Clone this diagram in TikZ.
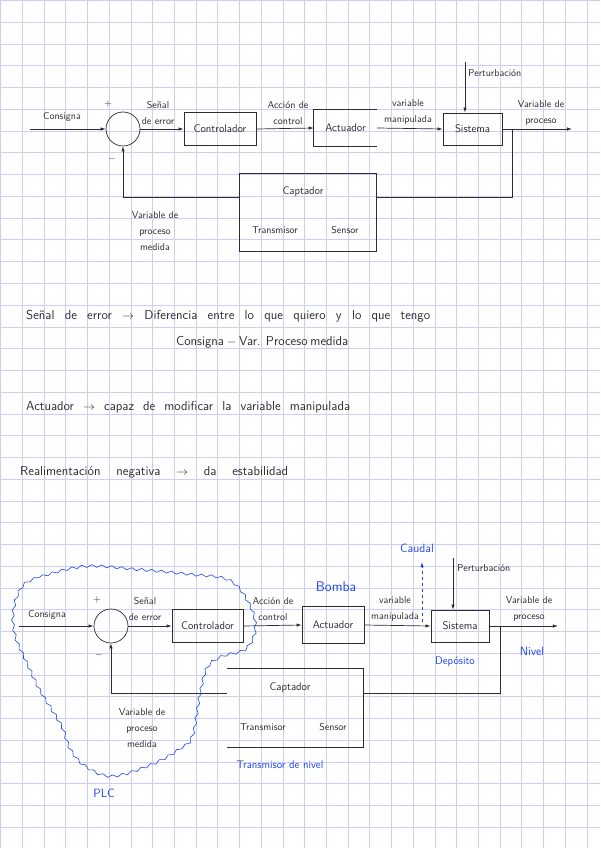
\documentclass[tikz,border=0pt]{standalone}
\usepackage{tikz}
\usetikzlibrary{arrows.meta,positioning,calc,decorations.pathmorphing}
\definecolor{ink}{RGB}{45,45,45}
\definecolor{pen}{RGB}{30,70,235}
\definecolor{paper}{RGB}{204,207,241}

\begin{document}
\begin{tikzpicture}[
    x=1pt, y=-1pt,
    font=\sffamily\fontsize{10}{16}\selectfont,
    >={Latex[length=1.8mm,width=1.2mm]},
    gridline/.style={draw=paper, line width=0.8pt},
    block/.style={rectangle, draw=ink, line width=0.7pt, inner sep=0pt,
      font=\sffamily\fontsize{11}{13}\selectfont, text=ink},
    openblock/.style={rectangle, inner sep=0pt,
      font=\sffamily\fontsize{11}{13}\selectfont, text=ink},
    summer/.style={circle, draw=ink, line width=0.7pt, minimum size=34pt, inner sep=0pt},
    flow/.style={->, line width=0.7pt, draw=ink},
    wire/.style={line width=0.7pt, draw=ink},
    lab/.style={text=ink, align=center, inner sep=1pt},
    note/.style={text=ink, anchor=west, inner sep=0pt, font=\sffamily\fontsize{13}{15}\selectfont},
    bluenote/.style={text=pen, inner sep=1pt, font=\sffamily\fontsize{12}{14}\selectfont},
    plcline/.style={draw=pen, line width=0.6pt, decorate,
      decoration={snake, amplitude=1.3pt, segment length=10pt}}
  ]
  \fill[white] (0,0) rectangle (600,848);
  \useasboundingbox (0,0) rectangle (600,848);
  % squared paper
  \foreach \i in {0,...,27} \draw[gridline] ({0.6+21.72*\i},0) -- ++(0,848);
  \foreach \j in {0,...,38} \draw[gridline] (0,{0.5+21.76*\j}) -- ++(600,0);

  % ---- first loop
  \coordinate (inA) at (30,129);
  \node[summer] (sumA) at (123,129) {};
  \node[block, minimum width=72pt, minimum height=33pt] (ctrlA) at (220,129) {Controlador};
  \node[openblock, minimum width=63pt, minimum height=37pt] (actA) at (345.5,128) {Actuador};
  \draw[wire] (actA.north east) -- (actA.north west) -- (actA.south west) -- (actA.south east);
  \node[block, minimum width=59pt, minimum height=32pt] (sysA) at (472.5,129) {Sistema};
  \coordinate (outA) at (572,129);
  \coordinate (pertA) at (465,62);
  \coordinate (tapA) at (512,129);
  \node[block, minimum width=137pt, minimum height=78pt] (captA) at (307.5,212) {};
  \node[lab, font=\sffamily\fontsize{11}{13}\selectfont] (captAtxt) at (303,192) {Captador};
  \node[lab] (transA) at (275,230) {Transmisor};
  \node[lab] (sensA) at (345,230) {Sensor};

  \draw[flow] (inA) -- (sumA.west);
  \draw[flow] (sumA.east) -- (ctrlA.west);
  \draw[flow] (ctrlA.east) -- (actA.west);
  \draw[flow] (actA.east) -- (sysA.west);
  \draw[flow] (sysA.east) -- (outA);
  \draw[flow] (pertA) -- (pertA |- sysA.north);
  \draw[wire] (tapA) |- ([yshift=15pt]captA.east);
  \draw[flow] ([yshift=15pt]captA.west) -| (sumA.south);

  \node[lab] (consA) at (62,117) {Consigna};
  \node[lab] (plusA) at (108,104) {+};
  \node[lab] (minusA) at (112,159) {$-$};
  \node[lab] (errA) at (158,113) {Señal\\de error};
  \node[lab] (accA) at (288,113) {Acción de\\control};
  \node[lab] (manA) at (408,112) {variable\\manipulada};
  \node[lab, anchor=west] (pertAtxt) at (467,73) {Perturbación};
  \node[lab] (pvA) at (541,113) {Variable de\\proceso};
  \node[lab] (pvmA) at (155,231) {Variable de\\proceso\\medida};

  % ---- notes
  \node[note] (n1) at (26,316) {\makebox[404pt][s]{Señal de error $\rightarrow$ Diferencia entre lo que quiero y lo que tengo}};
  \node[note] (n2) at (176,342) {\makebox[172pt][s]{Consigna $-$ Var. Proceso medida}};
  \node[note] (n3) at (26,407) {\makebox[324pt][s]{Actuador $\rightarrow$ capaz de modificar la variable manipulada}};
  \node[note] (n4) at (20,472) {\makebox[268pt][s]{Realimentación negativa $\rightarrow$ da estabilidad}};

  % ---- second loop
  \coordinate (inB) at (19,626);
  \node[summer] (sumB) at (111,626) {};
  \node[block, minimum width=71pt, minimum height=33pt] (ctrlB) at (207.5,626) {Controlador};
  \node[block, minimum width=62pt, minimum height=37pt] (actB) at (333,625) {Actuador};
  \node[block, minimum width=58pt, minimum height=32pt] (sysB) at (460,626) {Sistema};
  \coordinate (outB) at (558,626);
  \coordinate (pertB) at (453,558);
  \coordinate (tapB) at (500,626);
  \coordinate (cauS) at (422,622);
  \coordinate (cauE) at (422,562);
  \node[openblock, minimum width=136pt, minimum height=78pt] (captB) at (295,708) {};
  \draw[wire] (captB.north west) -- (captB.north east) -- (captB.south east) -- (captB.south west);
  \node[lab, font=\sffamily\fontsize{11}{13}\selectfont] (captBtxt) at (290,688) {Captador};
  \node[lab] (transB) at (263,727) {Transmisor};
  \node[lab] (sensB) at (333,727) {Sensor};

  \draw[flow] (inB) -- (sumB.west);
  \draw[flow] (sumB.east) -- (ctrlB.west);
  \draw[flow] (ctrlB.east) -- (actB.west);
  \draw[flow] (actB.east) -- (sysB.west);
  \draw[flow] (sysB.east) -- (outB);
  \draw[flow] (pertB) -- (pertB |- sysB.north);
  \draw[wire] (tapB) |- ([yshift=15pt]captB.east);
  \draw[flow] ([yshift=15pt]captB.west) -| (sumB.south);
  \draw[flow, draw=pen, dashed] (cauS) -- (cauE);

  \node[lab] (consB) at (47,615) {Consigna};
  \node[lab] (plusB) at (97,600) {+};
  \node[lab] (minusB) at (99,655) {$-$};
  \node[lab] (errB) at (145,609) {Señal\\de error};
  \node[lab] (accB) at (273,609) {Acción de\\control};
  \node[lab] (manB) at (395,609) {variable\\manipulada};
  \node[lab, anchor=west] (pertBtxt) at (456,568) {Perturbación};
  \node[lab] (pvB) at (529,609) {Variable de\\proceso};
  \node[lab] (pvmB) at (142,728) {Variable de\\proceso\\medida};

  \node[bluenote, font=\sffamily\fontsize{14}{16}\selectfont] (bomba) at (336,587) {Bomba};
  \node[bluenote] (caudal) at (417,548) {Caudal};
  \node[bluenote, font=\sffamily\fontsize{11}{13}\selectfont] (deposito) at (455,662) {Depósito};
  \node[bluenote] (nivel) at (532,651) {Nivel};
  \node[bluenote, font=\sffamily\fontsize{11}{13}\selectfont] (tnivel) at (280,765) {Transmisor de nivel};
  \node[bluenote] (plc) at (104,793) {PLC};

  % PLC boundary
  \draw[plcline] plot[smooth cycle, tension=0.6] coordinates {
    (20,587) (40,577) (83,567) (133,570) (187,575) (227,581) (247,605) (253,630)
    (243,650) (220,657) (205,668) (198,693) (190,737) (177,750) (150,765)
    (110,777) (83,767) (68,750) (60,728) (48,708) (36,688) (23,660) (13,637) (11,612)};
\end{tikzpicture}
\end{document}
